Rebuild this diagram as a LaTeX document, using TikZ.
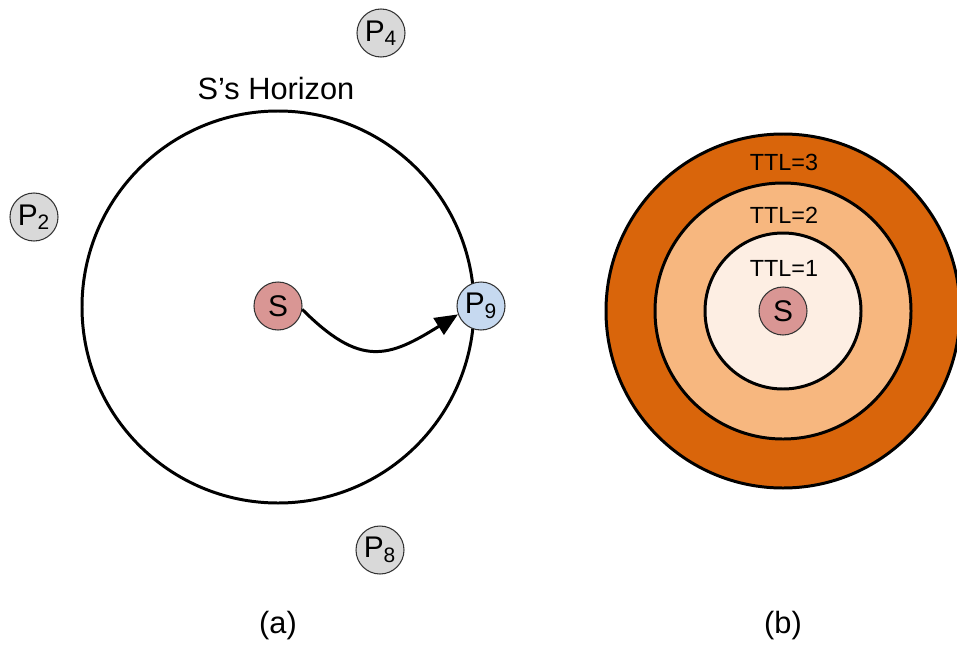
\documentclass[tikz,border=0pt]{standalone}
\usepackage{fontspec}
\setmainfont{Liberation Sans}
\usepackage{xcolor}
\usetikzlibrary{arrows.meta,positioning}
\definecolor{srcred}{HTML}{D99694}
\definecolor{peerblue}{HTML}{C6D9F0}
\definecolor{peergray}{HTML}{D9D9D9}
\definecolor{ringdark}{HTML}{D9650B}
\definecolor{ringmid}{HTML}{F7B77F}
\definecolor{ringlight}{HTML}{FDEEE3}
\definecolor{nodeedge}{gray}{0.2}
\tikzset{
  peer/.style={circle,draw=nodeedge,line width=0.6pt,fill=peergray,minimum size=48*0.02cm,inner sep=0pt,font=\fontsize{17}{18}\selectfont},
  srcnode/.style={peer,fill=srcred},
  hitnode/.style={peer,fill=peerblue},
  ringln/.style={draw=black,line width=1.7pt},
  ttl/.style={font=\fontsize{13.3}{14}\selectfont},
  captxt/.style={font=\fontsize{17.5}{18}\selectfont},
}

\begin{document}
\begin{tikzpicture}[x=0.02cm,y=-0.02cm]
        \useasboundingbox (0,0) rectangle (957,646);
        % (a) horizon of S
        \draw[ringln] (278,307) circle [radius=196];
        \node[captxt] (hlab) at (276,89) {S’s Horizon};
        \node[srcnode] (sa) at (278,306) {S};
        \node[hitnode] (p9) at (481,306) {P\textsubscript{9}};
        \node[peer] (p4) at (381,33) {P\textsubscript{4}};
        \node[peer] (p2) at (34,217) {P\textsubscript{2}};
        \node[peer] (p8) at (380,550) {P\textsubscript{8}};
        \draw[line width=1.7pt,-{Triangle[length=13pt,width=11pt]}] (sa.-8) to[out=-45,in=212,looseness=1.35] (p9.200);
        \node[captxt] (capa) at (278,626) {(a)};
        % (b) TTL rings
        \draw[ringln,fill=ringdark] (783,311) circle [radius=177];
        \draw[ringln,fill=ringmid] (783,311) circle [radius=128];
        \draw[ringln,fill=ringlight] (783,311) circle [radius=78];
        \node[ttl] (t3) at (784,162) {TTL=3};
        \node[ttl] (t2) at (784,215) {TTL=2};
        \node[ttl] (t1) at (784,268) {TTL=1};
        \node[srcnode] (sb) at (783,311) {S};
        \node[captxt] (capb) at (783,626) {(b)};
      \end{tikzpicture}
\end{document}
